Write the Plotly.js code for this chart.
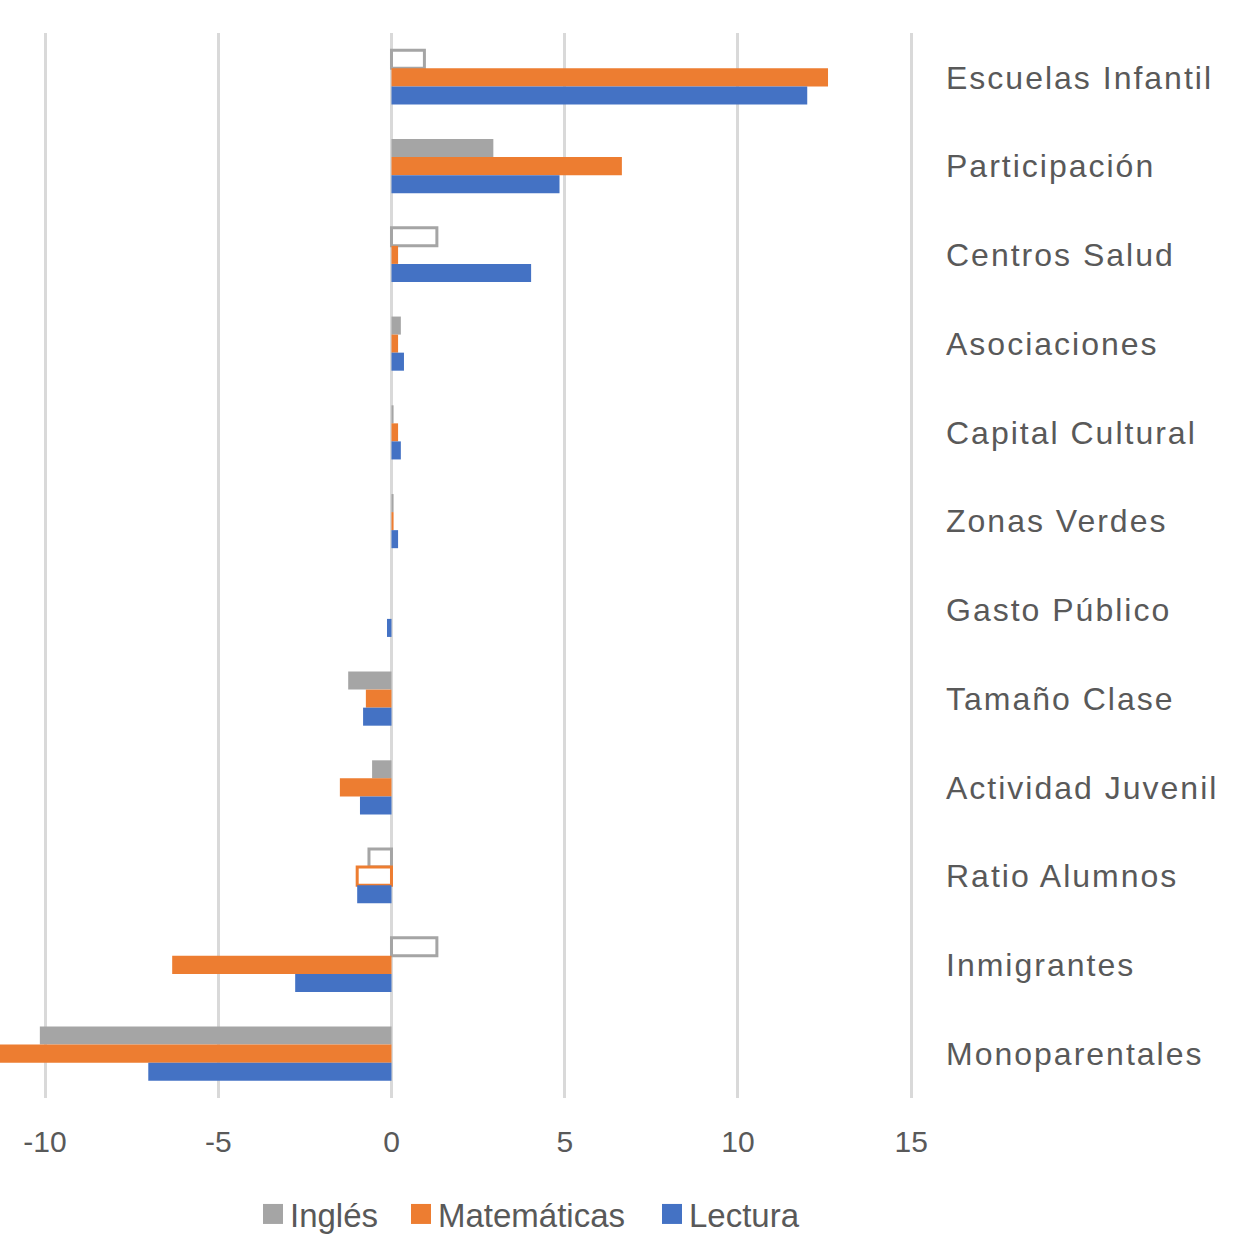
<!DOCTYPE html>
<html>
<head>
<meta charset="utf-8">
<script src="https://cdn.plot.ly/plotly-3.0.1.min.js"></script>
<style>html,body{margin:0;padding:0;background:#fff;}#chart{width:1236px;height:1236px;}</style>
</head>
<body>
<div id="chart"></div>
<script>
// Categories, top to bottom
var categories = ["Escuelas Infantil","Participación","Centros Salud","Asociaciones","Capital Cultural","Zonas Verdes","Gasto Público","Tamaño Clase","Actividad Juvenil","Ratio Alumnos","Inmigrantes","Monoparentales"];
var ingles      = [0.95, 2.94, 1.31, 0.27, 0.06, 0.06, 0, -1.25, -0.56, -0.65, 1.31, -10.15];
var matematicas = [12.6, 6.65, 0.19, 0.19, 0.19, 0.06, 0, -0.74, -1.49, -0.99, -6.33, -11.6];
var lectura     = [12.0, 4.85, 4.03, 0.36, 0.27, 0.19, -0.13, -0.82, -0.91, -0.99, -2.78, -7.02];
// Significance (false = drawn hollow)
var inglesSig      = [false, true, false, true, true, true, true, true, true, false, false, true];
var matematicasSig = [true, true, true, true, true, true, true, true, true, false, true, true];
var lecturaSig     = [true, true, true, true, true, true, true, true, true, true, true, true];
var xTicks = [-10, -5, 0, 5, 10, 15];

var FONT = '"Liberation Sans", Arial, sans-serif';
var TXT = '#595959';
var COLORS = {'Inglés':'#A5A5A5','Matemáticas':'#ED7D31','Lectura':'#4472C4'};

function mk(name, vals, sig){
  var color = COLORS[name];
  return {
    type: 'bar', orientation: 'h', name: name,
    x: vals, y: categories,
    marker: {
      color: sig.map(function(s){ return s ? color : '#ffffff'; }),
      line: {
        color: color,
        width: sig.map(function(s){ return s ? 0 : 3; })
      }
    },
    hoverinfo: 'x+y'
  };
}

var data = [
  mk('Inglés', ingles, inglesSig),
  mk('Matemáticas', matematicas, matematicasSig),
  mk('Lectura', lectura, lecturaSig)
];

var layout = {
  width: 1236, height: 1236,
  margin: {l: 0, r: 303, t: 33, b: 138, pad: 0, autoexpand: false},
  paper_bgcolor: '#ffffff', plot_bgcolor: '#ffffff',
  barmode: 'group',
  bargap: 0.39, bargroupgap: 0,
  font: {family: FONT, color: TXT, size: 30},
  xaxis: {
    range: [-11.3, 15.63],
    tickvals: xTicks, ticktext: xTicks.map(String),
    showgrid: true, gridcolor: '#D9D9D9', gridwidth: 3,
    zeroline: true, zerolinecolor: '#D9D9D9', zerolinewidth: 3,
    showline: false, ticks: '',
    ticklabelstandoff: 23,
    automargin: false,
    tickfont: {family: FONT, size: 30, color: TXT},
    fixedrange: true
  },
  yaxis: {
    type: 'category',
    categoryorder: 'array', categoryarray: categories,
    autorange: 'reversed',
    side: 'right',
    showgrid: false, zeroline: false, showline: false, ticks: '',
    ticklabelstandoff: 12,
    automargin: false,
    tickfont: {family: FONT, size: 32, color: TXT},
    fixedrange: true
  },
  showlegend: true,
  legend: {
    orientation: 'h',
    traceorder: 'normal',
    xref: 'paper', x: 0.568, xanchor: 'center',
    yref: 'container', y: 0.0178, yanchor: 'middle',
    font: {family: FONT, size: 33, color: TXT},
    itemclick: false, itemdoubleclick: false
  }
};

Plotly.newPlot('chart', data, layout, {displayModeBar: false, staticPlot: true}).then(function(){
  document.querySelectorAll('.yaxislayer-above text').forEach(function(t){
    t.style.letterSpacing = '2px';
  });
  // remove legend clipping so repositioned items are fully visible
  document.querySelectorAll('.legend, .legend *').forEach(function(el){
    if (el.hasAttribute('clip-path')) el.removeAttribute('clip-path');
  });
  var targetLeft = {'Inglés': 263, 'Matemáticas': 411, 'Lectura': 662};
  document.querySelectorAll('.legend .traces').forEach(function(g){
    var name = g.querySelector('.legendtext').textContent;
    g.querySelectorAll('.legendpoints path').forEach(function(p){
      p.setAttribute('d', 'M13,10H-7V-10H13Z');
      p.style.fill = COLORS[name];
      p.style.stroke = 'none';
      p.style.strokeWidth = '0';
    });
    var path = g.querySelector('.legendpoints path');
    if (path && targetLeft[name] !== undefined) {
      var cur = path.getBoundingClientRect().left;
      var dx = targetLeft[name] - cur;
      var tr = g.getAttribute('transform') || 'translate(0,0)';
      var m = /translate\(\s*([-\d.e]+)[ ,]+([-\d.e]+)\s*\)/.exec(tr);
      var tx = m ? parseFloat(m[1]) : 0, ty = m ? parseFloat(m[2]) : 0;
      g.setAttribute('transform', 'translate(' + (tx + dx) + ',' + ty + ')');
    }
  });
});
</script>
</body>
</html>
